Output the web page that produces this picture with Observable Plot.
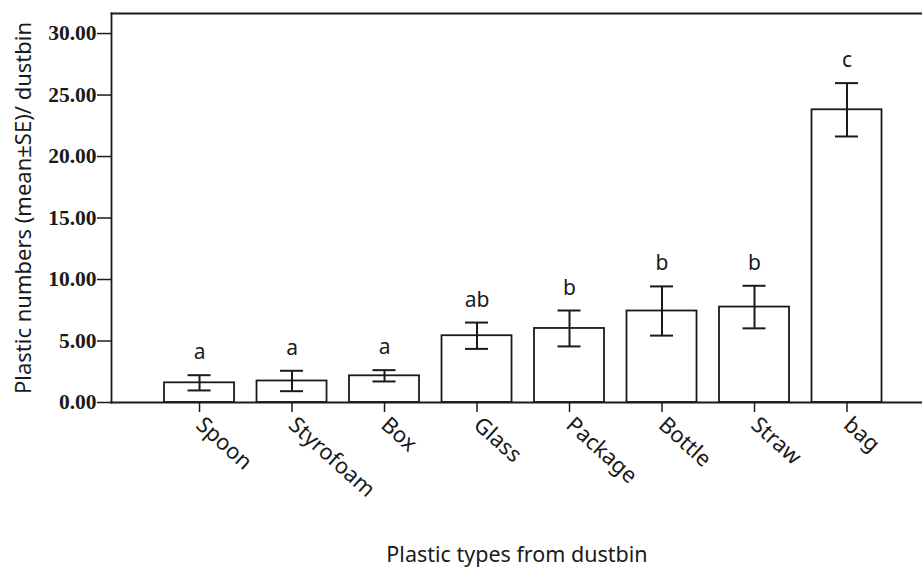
<!DOCTYPE html>
<html>
<head>
<meta charset="utf-8">
<script src="https://cdn.jsdelivr.net/npm/d3@7"></script>
<script src="https://cdn.jsdelivr.net/npm/@observablehq/plot@0.6"></script>
<style>
  html, body { margin: 0; padding: 0; background: #fff; }
  #chart svg { display: block; }
</style>
</head>
<body>
<div id="chart"></div>
<script>
const types = ["Spoon", "Styrofoam", "Box", "Glass", "Package", "Bottle", "Straw", "bag"];
const means = [1.60, 1.75, 2.17, 5.43, 6.02, 7.44, 7.76, 23.80];
const ses = [0.62, 0.83, 0.46, 1.07, 1.46, 2.00, 1.73, 2.17];
const letters = ["a", "a", "a", "ab", "b", "b", "b", "c"];
const yTicks = [0, 5, 10, 15, 20, 25, 30];
const xTitle = "Plastic types from dustbin";
const yTitle = "Plastic numbers (mean±SE)/ dustbin";

const data = types.map((t, i) => ({type: t, mean: means[i], se: ses[i], letter: letters[i]}));
const ink = "#1a1a1a";
const sans = "Noto Sans";

const chart = Plot.plot({
  width: 922,
  height: 568,
  marginLeft: 111,
  marginRight: 0,
  marginTop: 13,
  marginBottom: 166,
  style: {background: "#fff", color: ink, overflow: "visible"},
  x: {domain: types, paddingInner: 0.243, paddingOuter: 0.5055, align: 0.567, round: false},
  y: {domain: [0, 31.63], ticks: yTicks},
  marks: [
    Plot.barY(data, {x: "type", y: "mean", fill: "white", stroke: ink, strokeWidth: 1.8}),
    Plot.ruleX(data, {x: "type", y1: d => d.mean - d.se, y2: d => d.mean + d.se, stroke: ink, strokeWidth: 2}),
    Plot.tickY(data, {x: "type", y: d => d.mean - d.se, insetLeft: 23.5, insetRight: 23.5, stroke: ink, strokeWidth: 2}),
    Plot.tickY(data, {x: "type", y: d => d.mean + d.se, insetLeft: 23.5, insetRight: 23.5, stroke: ink, strokeWidth: 2}),
    Plot.text(data, {x: "type", y: d => d.mean + d.se, text: "letter", dy: -16, lineAnchor: "bottom", fontSize: 21, fontFamily: sans, fill: ink}),
    Plot.frame({anchor: "left", stroke: ink, strokeWidth: 1.8}),
    Plot.frame({anchor: "top", stroke: ink, strokeWidth: 1.8}),
    Plot.frame({anchor: "bottom", stroke: ink, strokeWidth: 1.8}),
    Plot.axisY({ticks: yTicks, tickFormat: d3.format(".2f"), tickSize: 14, tickPadding: 1, fontSize: 21.5, fontFamily: "Liberation Serif", fontWeight: "bold", label: null, stroke: ink, strokeWidth: 1.5}),
    Plot.axisX({tickRotate: 42, tickSize: 10, tickPadding: 9, fontSize: 22, fontFamily: sans, label: null, stroke: ink, strokeWidth: 1.5}),
    Plot.text([xTitle], {frameAnchor: "bottom", dy: 159, lineAnchor: "bottom", fontSize: 21.5, fontFamily: sans, fill: ink}),
    Plot.text([yTitle], {frameAnchor: "left", dx: -88, rotate: -90, textAnchor: "middle", fontSize: 22, fontFamily: sans, fill: ink})
  ]
});
document.getElementById("chart").appendChild(chart);
</script>
</body>
</html>
